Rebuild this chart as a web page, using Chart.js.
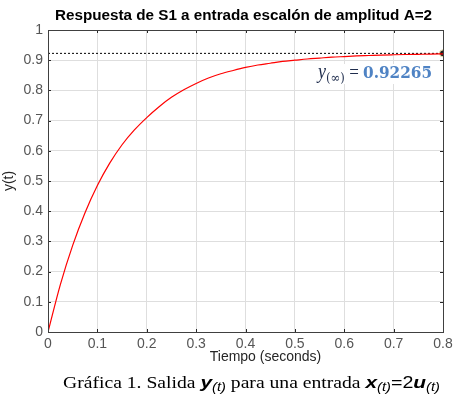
<!DOCTYPE html>
<html>
<head>
<meta charset="utf-8">
<script src="https://cdn.jsdelivr.net/npm/chart.js@4.4.1/dist/chart.umd.min.js"></script>
<style>
  html, body { margin: 0; padding: 0; background: #fff; }
  #wrap { width: 457px; height: 396px; position: relative; }
</style>
</head>
<body>
<div id="wrap"><canvas id="stepChart"></canvas></div>
<script>
// values (step 0.025 s)
const times = [0, 0.025, 0.05, 0.075, 0.1, 0.125, 0.15, 0.175, 0.2, 0.225, 0.25, 0.275, 0.3,
  0.325, 0.35, 0.375, 0.4, 0.425, 0.45, 0.475, 0.5, 0.525, 0.55, 0.575, 0.6,
  0.625, 0.65, 0.675, 0.7, 0.725, 0.75, 0.775, 0.8];
const response = [0, 0.157, 0.287, 0.395, 0.485, 0.559, 0.620, 0.669, 0.710, 0.746, 0.777, 0.802, 0.823,
  0.841, 0.855, 0.866, 0.876, 0.884, 0.890, 0.896, 0.900, 0.904, 0.907, 0.910, 0.912,
  0.914, 0.9155, 0.917, 0.918, 0.9188, 0.9195, 0.9202, 0.9208];
const finalValue = 0.92265;
const finalTime = 0.8;
const xTicks = [0, 0.1, 0.2, 0.3, 0.4, 0.5, 0.6, 0.7, 0.8];
const yTicks = [0, 0.1, 0.2, 0.3, 0.4, 0.5, 0.6, 0.7, 0.8, 0.9, 1];

const titleText = "Respuesta de S1 a entrada escalón de amplitud A=2";
const xLabel = "Tiempo (seconds)";
const yLabel = "y(t)";

// draws a run of differently styled pieces, squeezed to a given width
function drawRuns(ctx, runs, x, baseline, width) {
  let total = 0;
  runs.forEach(r => { ctx.font = r.font; r.w = ctx.measureText(r.text).width; total += r.w; });
  const k = width / total;
  ctx.save();
  ctx.textAlign = "left";
  ctx.translate(x, baseline);
  ctx.scale(k, 1);
  let cx = 0;
  runs.forEach(r => {
    ctx.font = r.font;
    ctx.fillStyle = r.color || "#000";
    ctx.fillText(r.text, cx, r.dy || 0);
    cx += r.w;
  });
  ctx.restore();
}

const decoPlugin = {
  id: "deco",
  afterDatasetsDraw(chart) {
    const ctx = chart.ctx;
    const a = chart.chartArea;
    const xs = chart.scales.x, ys = chart.scales.y;
    ctx.save();
    // small inner tick marks on all four sides
    ctx.strokeStyle = "#262626";
    ctx.lineWidth = 1;
    ctx.beginPath();
    xTicks.forEach(v => {
      const px = Math.round(xs.getPixelForValue(v)) + 0.5;
      ctx.moveTo(px, a.bottom); ctx.lineTo(px, a.bottom - 3);
      ctx.moveTo(px, a.top); ctx.lineTo(px, a.top + 3);
    });
    yTicks.forEach(v => {
      const py = Math.round(ys.getPixelForValue(v)) + 0.5;
      ctx.moveTo(a.left, py); ctx.lineTo(a.left + 3, py);
      ctx.moveTo(a.right, py); ctx.lineTo(a.right - 3, py);
    });
    ctx.stroke();
    // axes box
    ctx.strokeStyle = "#404040";
    ctx.strokeRect(Math.round(a.left) + 0.5, Math.round(a.top) + 0.5,
      Math.round(a.right - a.left), Math.round(a.bottom - a.top));
    ctx.restore();
  },
  afterDraw(chart) {
    const ctx = chart.ctx;
    const a = chart.chartArea;
    const xs = chart.scales.x, ys = chart.scales.y;
    ctx.save();

    // y(inf) annotation
    const lx = xs.getPixelForValue(0.547), ly = ys.getPixelForValue(0.841);
    ctx.fillStyle = "#fff";
    ctx.fillRect(lx - 3, ly - 14, 120, 20);
    drawRuns(ctx, [
      { text: "y", font: "italic 20px 'Liberation Serif'", color: "#1f2d4d" },
      { text: "(∞)", font: "13px 'DejaVu Serif'", color: "#1f2d4d", dy: 4 },
      { text: " = ", font: "19px 'Liberation Serif'", color: "#1f2d4d" },
      { text: "0.92265", font: "bold 17px 'DejaVu Serif'", color: "#4f83c4" }
    ], lx, ly, 114);

    // title
    drawRuns(ctx, [{ text: titleText, font: "bold 14px 'Liberation Sans'" }], 55, 20, 377);
    // axis labels
    ctx.fillStyle = "#262626";
    ctx.font = "14px 'Liberation Sans'";
    ctx.textAlign = "center";
    ctx.fillText(xLabel, (a.left + a.right) / 2 + 20, 361);
    ctx.save();
    ctx.translate(13, (a.top + a.bottom) / 2);
    ctx.rotate(-Math.PI / 2);
    ctx.fillText(yLabel, 0, 0);
    ctx.restore();

    // caption
    drawRuns(ctx, [
      { text: "Gráfica 1. Salida ", font: "16px 'Liberation Serif'" },
      { text: "y", font: "bold italic 17px 'Liberation Sans'" },
      { text: "(t)", font: "italic 12px 'Liberation Sans'", dy: 3 },
      { text: " para una entrada ", font: "16px 'Liberation Serif'" },
      { text: "x", font: "bold italic 17px 'Liberation Sans'" },
      { text: "(t)", font: "italic 12px 'Liberation Sans'", dy: 3 },
      { text: "=2", font: "16px 'Liberation Sans'" },
      { text: "u", font: "bold italic 17px 'Liberation Sans'" },
      { text: "(t)", font: "italic 12px 'Liberation Sans'", dy: 3 }
    ], 63, 388, 377);
    ctx.restore();
  }
};

const tickFont = { family: "'Liberation Sans'", size: 14 };

new Chart(document.getElementById("stepChart"), {
  type: "line",
  data: {
    datasets: [
      {
        label: "y(t)",
        data: times.map((t, i) => ({ x: t, y: response[i] })),
        borderColor: "#ff0000",
        borderWidth: 1.2,
        pointRadius: 0,
        cubicInterpolationMode: "monotone",
        fill: false
      },
      {
        label: "final",
        data: [{ x: 0, y: finalValue }, { x: finalTime, y: finalValue }],
        borderColor: "#000",
        borderWidth: 1,
        borderDash: [2, 2],
        pointRadius: 0
      },
      {
        label: "marker",
        data: [{ x: finalTime, y: finalValue }],
        showLine: false,
        pointRadius: 3.5,
        pointBackgroundColor: "#222",
        pointBorderColor: "#f3e9b0",
        pointBorderWidth: 1
      }
    ]
  },
  options: {
    responsive: true,
    maintainAspectRatio: false,
    animation: false,
    layout: { padding: { top: 30, right: 14, left: 0, bottom: 0 } },
    plugins: { legend: { display: false }, tooltip: { enabled: false } },
    scales: {
      x: {
        type: "linear",
        min: 0,
        max: 0.8,
        afterBuildTicks: s => { s.ticks = xTicks.map(v => ({ value: v })); },
        afterFit: s => { s.height = 64; },
        grid: { color: "#dedede", drawTicks: false },
        border: { display: false },
        ticks: { color: "#555555", font: tickFont, padding: 4, maxRotation: 0,
          callback: v => String(v) }
      },
      y: {
        min: 0,
        max: 1,
        afterBuildTicks: s => { s.ticks = yTicks.map(v => ({ value: v })); },
        afterFit: s => { s.width = 48; },
        grid: { color: "#dedede", drawTicks: false },
        border: { display: false },
        ticks: { color: "#555555", font: tickFont, padding: 5,
          callback: v => String(v) }
      }
    }
  },
  plugins: [decoPlugin]
});
</script>
</body>
</html>
